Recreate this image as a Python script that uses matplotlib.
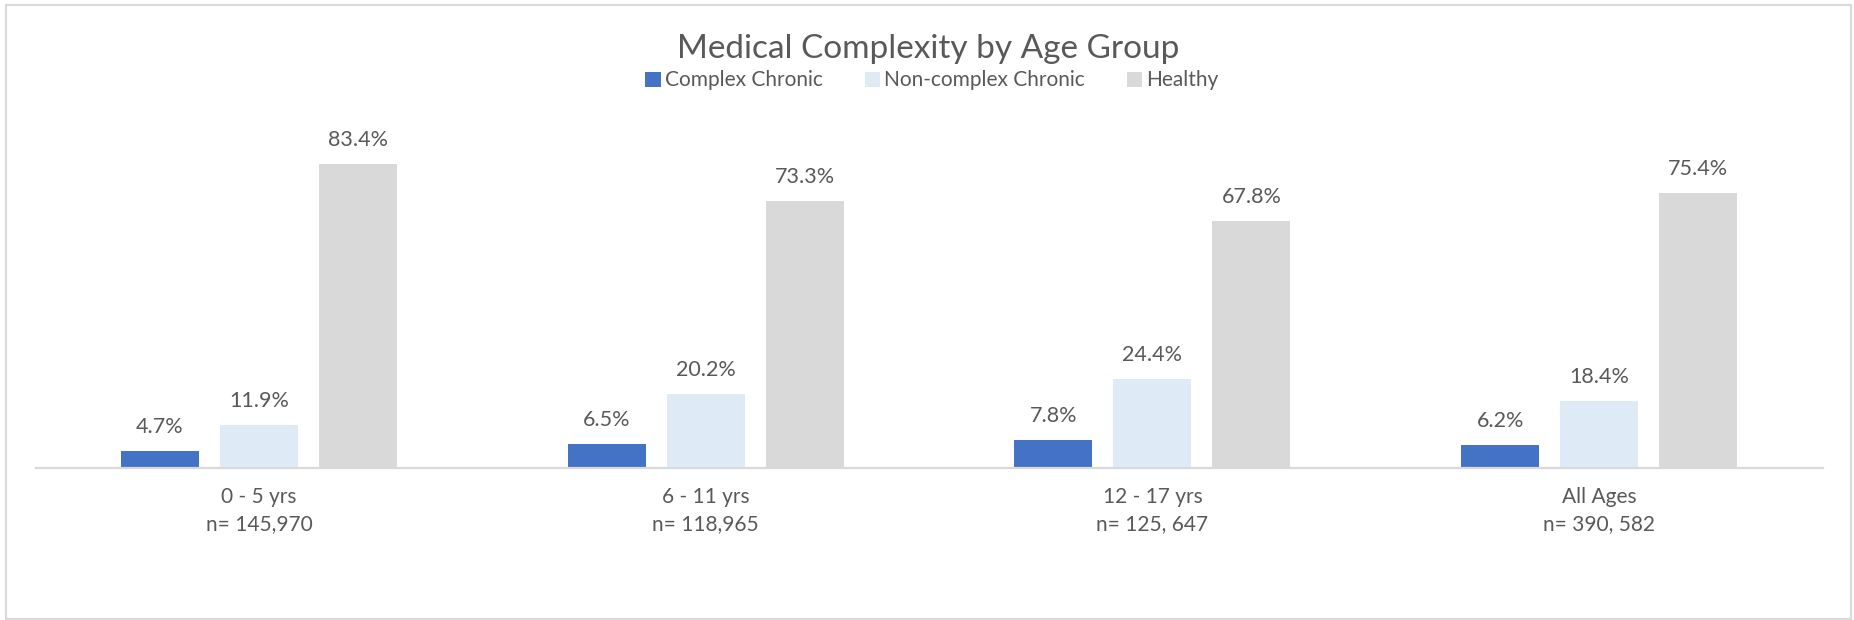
import matplotlib.pyplot as plt
from matplotlib.patches import Rectangle
import numpy as np

# chart data
groups = ['0 - 5 yrs\nn= 145,970', '6 - 11 yrs\nn= 118,965',
          '12 - 17 yrs\nn= 125, 647', 'All Ages\nn= 390, 582']
complex_chronic = [4.7, 6.5, 7.8, 6.2]
non_complex_chronic = [11.9, 20.2, 24.4, 18.4]
healthy = [83.4, 73.3, 67.8, 75.4]

series_names = ['Complex Chronic', 'Non-complex Chronic', 'Healthy']
colors = ['#4472C4', '#DEEBF7', '#D9D9D9']
text_color = '#595959'

plt.rcParams['font.family'] = ['Lato', 'DejaVu Sans']

W, H = 1854, 620
fig = plt.figure(figsize=(W / 100, H / 100), dpi=100)
ax = fig.add_axes([35.7 / W, 1 - 468 / H, (1822.5 - 35.7) / W, (468 - 103.5) / H])

x = np.arange(len(groups))
width = 0.1746
step = 0.2216
values = [complex_chronic, non_complex_chronic, healthy]
for i, (name, vals, c) in enumerate(zip(series_names, values, colors)):
    bars = ax.bar(x + (i - 1) * step, vals, width, color=c, label=name, zorder=2)
    for b, v in zip(bars, vals):
        ax.annotate(f'{v:.1f}%', (b.get_x() + b.get_width() / 2, v),
                    xytext=(0, 24), textcoords='offset pixels',
                    ha='center', va='center', fontsize=15.5, color=text_color)

ax.set_xlim(-0.5, len(groups) - 0.5)
ax.set_ylim(0, 100)
ax.set_yticks([])
ax.set_xticks(x)
ax.set_xticklabels(groups, fontsize=15, color=text_color, linespacing=1.42)
ax.tick_params(axis='x', length=0, pad=14)
for s in ['top', 'right', 'left']:
    ax.spines[s].set_visible(False)
ax.spines['bottom'].set_color('#D9D9D9')
ax.spines['bottom'].set_linewidth(1.6)
ax.spines['bottom'].set_zorder(3)

fig.text(928 / W, 1 - 58 / H, 'Medical Complexity by Age Group',
         ha='center', va='baseline', fontsize=24, color=text_color)
fig.legend(loc='center', bbox_to_anchor=(932 / W, 1 - 80.5 / H), ncol=3,
           frameon=False, fontsize=15, labelcolor=text_color,
           handlelength=0.75, handleheight=0.75, handletextpad=0.2,
           columnspacing=2.0, borderpad=0)

# chart area border
fig.patches.append(Rectangle((6 / W, 1 / H), 1845 / W, 614 / H,
                             transform=fig.transFigure, fill=False,
                             edgecolor='#D9D9D9', linewidth=1.5))

fig.savefig('out.png', dpi=100)
